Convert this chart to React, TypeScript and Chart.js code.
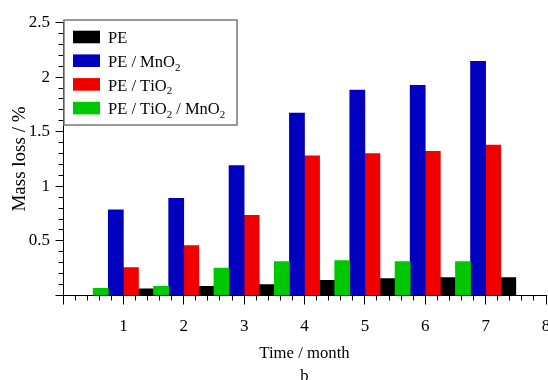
import { useEffect, useRef } from "react";
import { Chart, registerables } from "chart.js";

Chart.register(...registerables);

// ---- data ----
const months = [1, 2, 3, 4, 5, 6, 7];
const peValues = [0.06, 0.085, 0.1, 0.14, 0.155, 0.163, 0.163];
const mno2Values = [0.785, 0.89, 1.19, 1.67, 1.88, 1.925, 2.145];
const tio2Values = [0.255, 0.457, 0.735, 1.28, 1.3, 1.32, 1.378];
const tio2Mno2Values = [0.066, 0.085, 0.25, 0.31, 0.32, 0.31, 0.31];
const seriesLabels = ["PE", "PE / MnO₂", "PE / TiO₂", "PE / TiO₂ / MnO₂"];
const seriesColors = ["#000000", "#0000BE", "#F20000", "#00C800"];
// position of each series inside a month group (left to right)
const seriesGroupOrder = [3, 1, 2, 0];
const xAxisTitle = ["Time / month", "b"];
const yAxisTitle = "Mass loss / %";
const xMin = 0, xMax = 8, xMajorStep = 1, xMinorStep = 0.2;
const yMin = 0, yMax = 2.5, yMajorStep = 0.5, yMinorStep = 0.1;

const FONT = "'Liberation Serif', 'Times New Roman', serif";

function align(p: number) {
  return Math.round(p - 0.5) + 0.5;
}

function drawRich(ctx: CanvasRenderingContext2D, text: string, x: number, baseline: number, size: number) {
  let cx = x;
  for (const ch of text) {
    if (ch === "₂") {
      ctx.font = `${size * 0.66}px ${FONT}`;
      ctx.fillText("2", cx, baseline + size * 0.22);
      cx += ctx.measureText("2").width;
    } else {
      ctx.font = `${size}px ${FONT}`;
      ctx.fillText(ch, cx, baseline);
      cx += ctx.measureText(ch).width;
    }
  }
}

const decorPlugin = {
  id: "decor",
  afterDraw(chart: any) {
    const { ctx, chartArea } = chart;
    const xs = chart.scales.x;
    const ys = chart.scales.y;
    ctx.save();
    ctx.strokeStyle = "#000";
    ctx.lineWidth = 1;
    ctx.beginPath();
    const nx = Math.round((xMax - xMin) / xMinorStep);
    const perX = Math.round(xMajorStep / xMinorStep);
    const yb = align(chartArea.bottom);
    for (let i = 0; i <= nx; i++) {
      const v = xMin + i * xMinorStep;
      const px = align(xs.getPixelForValue(v));
      const len = i % perX === 0 ? 9 : 5;
      ctx.moveTo(px, yb);
      ctx.lineTo(px, yb + len);
    }
    const ny = Math.round((yMax - yMin) / yMinorStep);
    const perY = Math.round(yMajorStep / yMinorStep);
    const xl = align(chartArea.left);
    for (let i = 0; i <= ny; i++) {
      const v = yMin + i * yMinorStep;
      const py = align(ys.getPixelForValue(v));
      const len = i % perY === 0 ? 8 : 5;
      ctx.moveTo(xl, py);
      ctx.lineTo(xl - len, py);
    }
    ctx.stroke();

    // legend box
    const boxL = chartArea.left + 1;
    const boxT = chartArea.top - 2.5;
    const boxW = 173;
    const boxH = 105;
    ctx.fillStyle = "#ffffff";
    ctx.fillRect(boxL, boxT, boxW, boxH);
    ctx.strokeStyle = "#777777";
    ctx.lineWidth = 1.5;
    ctx.strokeRect(boxL, boxT, boxW, boxH);
    const rowStep = 23.7;
    chart.data.datasets.forEach((ds: any, i: number) => {
      const sy = boxT + 10.7 + i * rowStep;
      ctx.fillStyle = ds.backgroundColor;
      ctx.fillRect(boxL + 9, sy, 27, 12.6);
      ctx.fillStyle = "#000";
      ctx.textBaseline = "alphabetic";
      ctx.textAlign = "left";
      drawRich(ctx, ds.label, boxL + 44, sy + 12.6, 16.5);
    });
    ctx.restore();
  },
};

export default function App() {
  const ref = useRef<HTMLCanvasElement>(null);
  useEffect(() => {
    if (!ref.current) return;
    Chart.defaults.font.family = FONT;
    Chart.defaults.color = "#000";
    const datasets = seriesLabels.map((label, si) => {
      const vals = [peValues, mno2Values, tio2Values, tio2Mno2Values][si];
      return {
        label,
        data: months.map((m, i) => ({ x: m, y: vals[i] })),
        backgroundColor: seriesColors[si],
        borderWidth: 0,
        barPercentage: 1,
        categoryPercentage: 1,
        order: seriesGroupOrder[si],
      };
    });
    const chart = new Chart(ref.current, {
      type: "bar",
      data: { datasets },
      options: {
        animation: false,
        responsive: false,
        events: [],
        layout: { padding: { top: 14.5, right: 2, bottom: 0, left: 0 } },
        plugins: {
          legend: { display: false },
          tooltip: { enabled: false },
        },
        scales: {
          x: {
            type: "linear",
            offset: false,
            min: xMin,
            max: xMax,
            grid: { display: false, drawTicks: false, offset: false },
            border: { display: true, color: "#000", width: 1 },
            ticks: {
              stepSize: xMajorStep,
              autoSkip: false,
              maxRotation: 0,
              padding: 21,
              font: { size: 17, family: FONT },
              color: "#000",
              callback: (v: any) => (v === 0 ? "" : String(v)),
            },
            title: {
              display: true,
              text: xAxisTitle,
              font: { size: 16.7, family: FONT, lineHeight: 23 / 16.7 },
              color: "#000",
              padding: { top: 0, bottom: 0 },
            },
            afterFit: (s: any) => {
              s.height = 92.5;
              s.paddingLeft = 0;
              s.paddingRight = 0;
            },
          },
          y: {
            type: "linear",
            min: yMin,
            max: yMax,
            grid: { display: false, drawTicks: false },
            border: { display: true, color: "#000", width: 1 },
            ticks: {
              stepSize: yMajorStep,
              padding: 13,
              font: { size: 17, family: FONT },
              color: "#000",
              callback: (v: any) => (v === 0 ? "" : String(v)),
            },
            title: {
              display: true,
              text: yAxisTitle,
              font: { size: 19, family: FONT, lineHeight: 1.2 },
              color: "#000",
              padding: { top: 0.6, bottom: 0 },
            },
            afterFit: (s: any) => {
              s.width = 55;
              s.paddingTop = 0;
              s.paddingBottom = 0;
            },
          },
        },
      } as any,
      plugins: [decorPlugin],
    });
    return () => chart.destroy();
  }, []);
  return (
    <div style={{ position: "fixed", left: 8, top: 8, width: 540, height: 380 }}>
      <canvas
        ref={ref}
        width={540}
        height={380}
        style={{ display: "block", width: 540, height: 380 }}
      />
    </div>
  );
}
